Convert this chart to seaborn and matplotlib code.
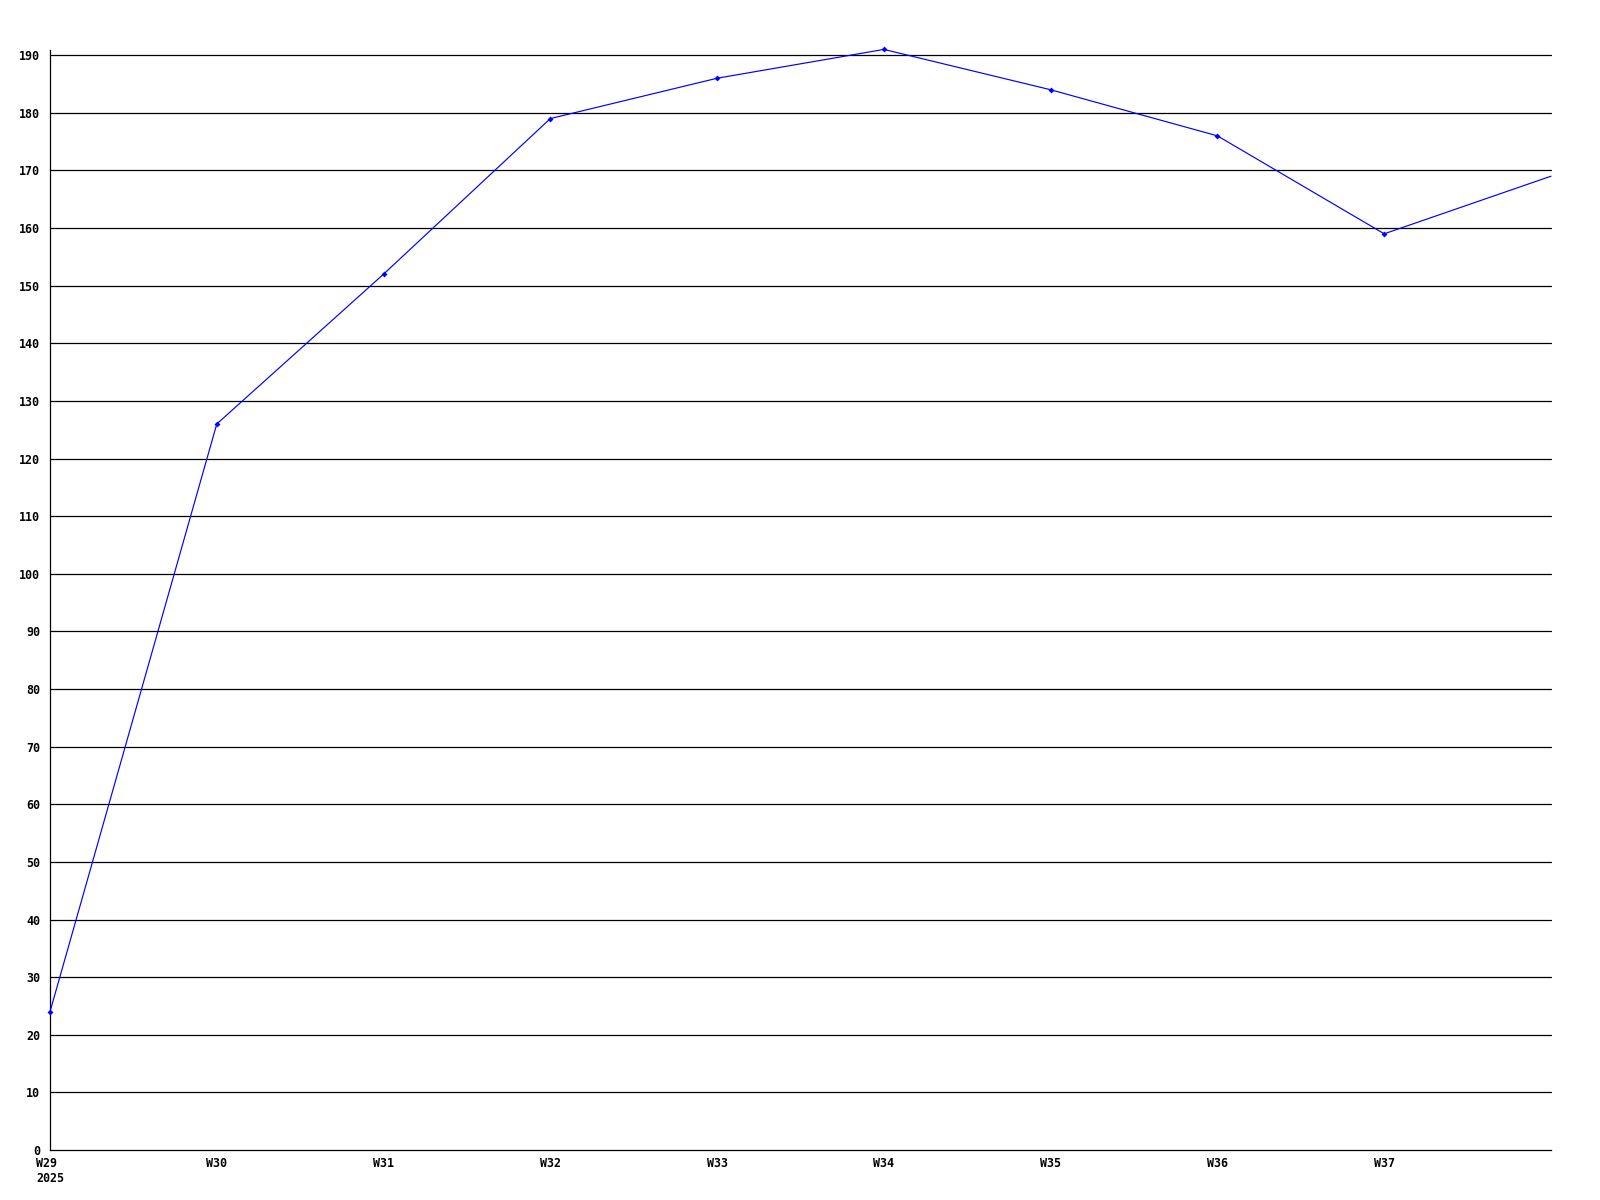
import matplotlib
matplotlib.use("Agg")
import matplotlib.pyplot as plt
import seaborn as sns
import pandas as pd

weeks = ["W29", "W30", "W31", "W32", "W33", "W34", "W35", "W36", "W37", "W38"]
tick_labels = ["W29\n2025", "W30", "W31", "W32", "W33", "W34", "W35", "W36", "W37"]
values = [24, 126, 152, 179, 186, 191, 184, 176, 159, 169]
y_ticks = list(range(0, 200, 10))

sns.set_theme(style="white")
plt.rcParams['font.family'] = ['DejaVu Sans Mono']
plt.rcParams['font.weight'] = 'bold'

df = pd.DataFrame({"idx": list(range(len(weeks))), "week": weeks, "value": values})

fig = plt.figure(figsize=(16, 12), dpi=100)
ax = fig.add_axes([50 / 1600, 1 - 1150 / 1200, (1551 - 50) / 1600, (1150 - 50) / 1200])

for t in y_ticks[1:]:
    ax.axhline(t, color="black", linewidth=0.9, zorder=1)

sns.lineplot(data=df, x="idx", y="value", ax=ax, color="#0000ff", linewidth=0.85,
             marker="D", markersize=3, markeredgewidth=0, zorder=3,
             markevery=list(range(len(weeks) - 1)))
for line in ax.lines:
    line.set_clip_on(False)

ax.set_xlim(0, 9)
ax.set_ylim(0, 190.9)
ax.set_xticks(list(range(len(tick_labels))))
ax.set_xticklabels(tick_labels, fontsize=8.4, fontweight="bold", multialignment="left")
ax.set_yticks(y_ticks)
ax.set_yticklabels([str(t) for t in y_ticks], fontsize=8.4, fontweight="bold")
ax.tick_params(axis="both", length=0, colors="black")
ax.tick_params(axis="y", pad=7)
ax.tick_params(axis="x", pad=5)
ax.set_xlabel("")
ax.set_ylabel("")
for s in ["top", "right"]:
    ax.spines[s].set_visible(False)
for s in ["left", "bottom"]:
    ax.spines[s].set_color("black")
    ax.spines[s].set_linewidth(0.9)

fig.savefig("out.png", dpi=100, facecolor="white")
